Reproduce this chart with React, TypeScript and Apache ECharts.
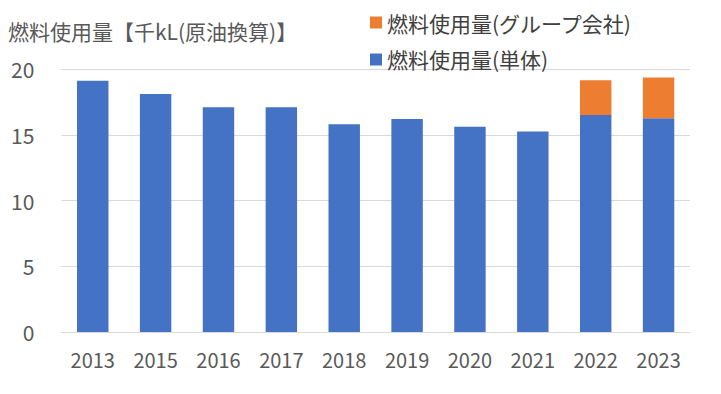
import React, { useEffect, useRef } from "react";
import * as echarts from "echarts";

const categories = ["2013", "2015", "2016", "2017", "2018", "2019", "2020", "2021", "2022", "2023"];
const singleValues = [19.1, 18.1, 17.1, 17.1, 15.8, 16.2, 15.6, 15.25, 16.5, 16.25];
const groupValues = [null, null, null, null, null, null, null, null, 2.65, 3.1];
const titleText = "燃料使用量【千kL(原油換算)】";
const seriesGroupName = "燃料使用量(グループ会社)";
const seriesSingleName = "燃料使用量(単体)";

const FONT = "'Noto Sans CJK JP', 'Noto Sans', sans-serif";

export default function App() {
  const ref = useRef<HTMLDivElement>(null);
  useEffect(() => {
    if (!ref.current) return;
    const chart = echarts.init(ref.current, null, { renderer: "svg" });
    chart.setOption({
      animation: false,
      backgroundColor: "#ffffff",
      title: {
        text: titleText,
        left: 0,
        top: 12,
        padding: 0,
        textStyle: { fontFamily: FONT, fontSize: 21, fontWeight: "normal", color: "#595959" },
      },
      legend: {
        orient: "vertical",
        left: 362,
        top: 4,
        padding: 0,
        itemWidth: 12,
        itemHeight: 12,
        itemGap: 16,
        icon: "rect",
        data: [seriesGroupName, seriesSingleName],
        textStyle: { fontFamily: FONT, fontSize: 21, color: "#404040" },
      },
      grid: { left: 52, right: 23, top: 61, bottom: 54, containLabel: false },
      xAxis: {
        type: "category",
        data: categories,
        axisLine: { lineStyle: { color: "#d9d9d9", width: 1 } },
        axisTick: { show: false },
        axisLabel: { fontFamily: FONT, fontSize: 20, color: "#595959", margin: 17 },
      },
      yAxis: {
        type: "value",
        min: 0,
        max: 20,
        interval: 5,
        axisLine: { show: false },
        axisTick: { show: false },
        splitLine: { lineStyle: { color: "#d9d9d9", width: 1 } },
        axisLabel: { fontFamily: FONT, fontSize: 21, color: "#595959", margin: 27 },
      },
      series: [
        {
          name: seriesSingleName,
          type: "bar",
          stack: "total",
          barWidth: "50%",
          data: singleValues,
          itemStyle: { color: "#4472C4" },
        },
        {
          name: seriesGroupName,
          type: "bar",
          stack: "total",
          barWidth: "50%",
          data: groupValues,
          itemStyle: { color: "#ED7D31" },
        },
      ],
    });
    return () => chart.dispose();
  }, []);
  return <div ref={ref} style={{ width: 705, height: 378 }} />;
}
